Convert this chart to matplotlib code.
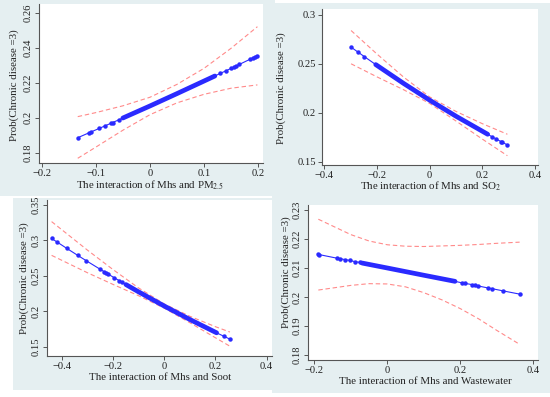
import matplotlib
matplotlib.use("Agg")
import matplotlib.pyplot as plt
from matplotlib.patches import Rectangle

plt.rcParams['font.family'] = ['Liberation Serif', 'DejaVu Serif']
plt.rcParams['mathtext.fontset'] = 'stix'

# ---------------- data ----------------
# Panel 1: PM2.5
pm_dots_x = [-0.1334, -0.112, -0.109, -0.094, -0.083, -0.072, -0.069, -0.058,
             0.13, 0.14, 0.15, 0.155, 0.16, 0.165, 0.185, 0.19, 0.195, 0.1987]
pm_dots_y = [0.1886, 0.1915, 0.1919, 0.1939, 0.1954, 0.1969, 0.1973, 0.1988,
             0.2255, 0.2269, 0.2284, 0.2291, 0.2299, 0.2306, 0.2336, 0.2344, 0.2351, 0.2357]
pm_band_x = [-0.050, 0.0, 0.05, 0.12]
pm_band_y = [0.1999, 0.2068, 0.2139, 0.2240]
pm_ci_x = [-0.1334, -0.1, -0.05, 0.0, 0.05, 0.1, 0.15, 0.1987]
pm_ci_hi = [0.2007, 0.2030, 0.2069, 0.2118, 0.2192, 0.2284, 0.2399, 0.2523]
pm_ci_lo = [0.1768, 0.1832, 0.1929, 0.2018, 0.2086, 0.2135, 0.2170, 0.2189]

# Panel 2: SO2
so_dots_x = [-0.2986, -0.271, -0.248, 0.235, 0.25, 0.27, 0.275, 0.2948]
so_dots_y = [0.2670, 0.2617, 0.2573, 0.1757, 0.1735, 0.1706, 0.1699, 0.1671]
so_band_x = [-0.205, -0.1, 0.0, 0.1, 0.22]
so_band_y = [0.2492, 0.2301, 0.2128, 0.1964, 0.1780]
so_ci_x = [-0.2986, -0.2, -0.1, 0.0, 0.1, 0.2, 0.2948]
so_ci_hi = [0.2840, 0.2599, 0.2366, 0.2161, 0.2013, 0.1888, 0.1780]
so_ci_lo = [0.2500, 0.2366, 0.2236, 0.2095, 0.1915, 0.1730, 0.1561]

# Panel 3: Soot
st_dots_x = [-0.439, -0.4172, -0.3805, -0.3376, -0.305, -0.2505, -0.235, -0.227,
             -0.218, -0.196, -0.175, -0.166, 0.2334, 0.2568]
st_dots_y = [0.3027, 0.2976, 0.2889, 0.2790, 0.2716, 0.2595, 0.2561, 0.2543,
             0.2524, 0.2476, 0.2432, 0.2412, 0.1647, 0.1607]
st_band_x = [-0.149, -0.1, 0.0, 0.1, 0.205]
st_band_y = [0.2377, 0.2275, 0.2075, 0.1885, 0.1696]
st_ci_x = [-0.439, -0.3, -0.2, -0.1, 0.0, 0.1, 0.2, 0.2568]
st_ci_hi = [0.3265, 0.2865, 0.2590, 0.2330, 0.2105, 0.1930, 0.1783, 0.1707]
st_ci_lo = [0.2789, 0.2545, 0.2380, 0.2220, 0.2045, 0.1840, 0.1627, 0.1507]

# Panel 4: Wastewater
ww_dots_x = [-0.189, -0.186, -0.139, -0.13, -0.116, -0.103, -0.089, -0.075,
             0.2038, 0.2129, 0.2312, 0.2403, 0.2493, 0.2767, 0.286, 0.3178, 0.3625]
ww_dots_y = [0.2147, 0.2146, 0.2134, 0.2132, 0.2129, 0.2126, 0.2122, 0.2119,
             0.2049, 0.2047, 0.2043, 0.2040, 0.2038, 0.2031, 0.2029, 0.2021, 0.2010]
ww_band_x = [-0.069, 0.0, 0.1, 0.1855]
ww_band_y = [0.2117, 0.2100, 0.2075, 0.2054]
ww_ci_x = [-0.189, -0.1, -0.05, 0.0, 0.05, 0.1, 0.15, 0.2, 0.25, 0.3, 0.3625]
ww_ci_hi = [0.2268, 0.2215, 0.2193, 0.2180, 0.2175, 0.2174, 0.2176, 0.2178, 0.2181, 0.2185, 0.2189]
ww_ci_lo = [0.2024, 0.2040, 0.2046, 0.2045, 0.2035, 0.2015, 0.1990, 0.1960, 0.1925, 0.1885, 0.1837]

pm_xticks = [-0.2, -0.1, 0, 0.1, 0.2]
pm_yticks = [0.18, 0.2, 0.22, 0.24, 0.26]
so_xticks = [-0.4, -0.2, 0, 0.2, 0.4]
so_yticks = [0.15, 0.2, 0.25, 0.3]
st_xticks = [-0.4, -0.2, 0, 0.2, 0.4]
st_yticks = [0.15, 0.2, 0.25, 0.3, 0.35]
ww_xticks = [-0.2, 0, 0.2, 0.4]
ww_yticks = [0.18, 0.19, 0.2, 0.21, 0.22, 0.23]

ylabel_text = "Prob(Chronic disease =3)"
xlabels = ["The interaction of Mhs and PM$_{2.5}$",
           "The interaction of Mhs and SO$_{2}$",
           "The interaction of Mhs and Soot",
           "The interaction of Mhs and Wastewater"]

# ---------------- layout ----------------
W, H = 550, 397
fig = plt.figure(figsize=(W / 100, H / 100), dpi=100)
fig.patch.set_facecolor("white")

BG = "#e5eff1"
BLUE = "#2a2aff"
RED = "#ff8a8a"
AX = "#555555"


def fr(x0, y0, x1, y1):
    return [x0 / W, 1 - y1 / H, (x1 - x0) / W, (y1 - y0) / H]


for (x0, y0, x1, y1) in [(0, 0, 275, 196), (272, 3, 550, 200),
                         (13, 198, 280, 390), (272, 200, 550, 393)]:
    fig.patches.append(Rectangle((x0 / W, 1 - y1 / H), (x1 - x0) / W, (y1 - y0) / H,
                                 transform=fig.transFigure, facecolor=BG,
                                 edgecolor="none", zorder=-10))


def fmt(v):
    s = f"{v:g}"
    return s.replace("-", "\u2212")


def panel(rect, xlim, ylim, xticks, yticks, dx, dy, bx, by, cx, clo, chi,
          xlabel, xl_pos, yl_pos, yrot):
    ax = fig.add_axes(fr(*rect))
    ax.set_zorder(1)
    ax.set_facecolor("white")
    ax.set_xlim(*xlim)
    ax.set_ylim(*ylim)
    for s in ["top", "right"]:
        ax.spines[s].set_visible(False)
    for s in ["left", "bottom"]:
        ax.spines[s].set_color(AX)
        ax.spines[s].set_linewidth(0.8)
    ax.set_xticks(xticks)
    ax.set_xticklabels([fmt(v) for v in xticks])
    ax.set_yticks(yticks)
    ax.set_yticklabels([fmt(v) for v in yticks])
    ax.tick_params(direction="out", length=3, width=0.7, color=AX,
                   labelsize=7.6, labelcolor="#222222", pad=1.5)
    if yrot:
        for t in ax.get_yticklabels():
            t.set_rotation(90)
            t.set_va("center")
    pts = sorted(zip(list(dx) + list(bx), list(dy) + list(by)))
    ax.plot([p[0] for p in pts], [p[1] for p in pts], color=BLUE, lw=0.8, zorder=3)
    ax.plot(bx, by, color=BLUE, lw=3.4, solid_capstyle="round", zorder=4)
    ax.plot(dx, dy, "o", color=BLUE, ms=3.2, mew=0, zorder=5)
    ax.plot(cx, chi, color=RED, lw=0.8, ls=(0, (4, 2.5)), zorder=2)
    ax.plot(cx, clo, color=RED, lw=0.8, ls=(0, (4, 2.5)), zorder=2)
    t1 = fig.text(xl_pos[0] / W, 1 - xl_pos[1] / H, xlabel, ha="center", va="center",
                  fontsize=7.8, color="#222222")
    t2 = fig.text(yl_pos[0] / W, 1 - yl_pos[1] / H, ylabel_text, ha="center", va="center",
                  rotation=90, fontsize=7.8, color="#222222")
    t1.set_zorder(5)
    t2.set_zorder(5)
    return ax


panel((39, 4, 263, 163), (-0.205, 0.209), (0.1741, 0.2653), pm_xticks, pm_yticks,
      pm_dots_x, pm_dots_y, pm_band_x, pm_band_y, pm_ci_x, pm_ci_lo, pm_ci_hi,
      xlabels[0], (150, 185), (14, 85), True)
panel((322, 9, 538, 165), (-0.409, 0.411), (0.1466, 0.306), so_xticks, so_yticks,
      so_dots_x, so_dots_y, so_band_x, so_band_y, so_ci_x, so_ci_lo, so_ci_hi,
      xlabels[1], (430, 186), (281, 88), False)
panel((47, 200, 272, 356), (-0.457, 0.421), (0.1369, 0.357), st_xticks, st_yticks,
      st_dots_x, st_dots_y, st_band_x, st_band_y, st_ci_x, st_ci_lo, st_ci_hi,
      xlabels[2], (160, 378), (24, 278), True)
panel((308, 205, 538, 360), (-0.2173, 0.4129), (0.1783, 0.2317), ww_xticks, ww_yticks,
      ww_dots_x, ww_dots_y, ww_band_x, ww_band_y, ww_ci_x, ww_ci_lo, ww_ci_hi,
      xlabels[3], (425, 381), (286, 272), True)

fig.savefig("out.png", dpi=100, facecolor="white")
